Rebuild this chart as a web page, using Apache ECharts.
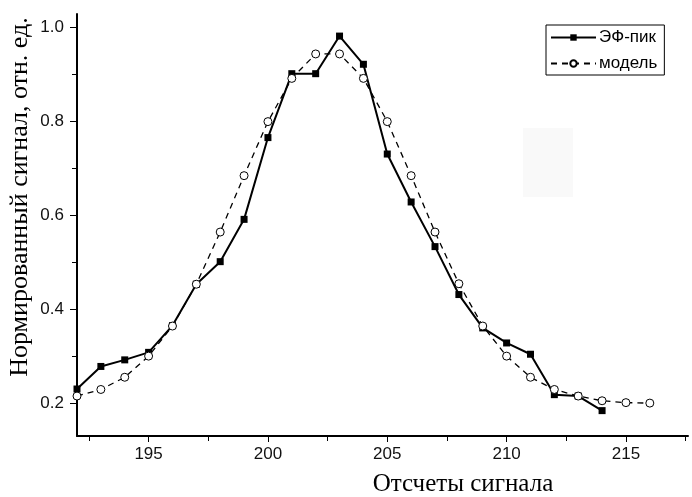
<!DOCTYPE html>
<html>
<head>
<meta charset="utf-8">
<script src="https://cdn.jsdelivr.net/npm/echarts@6/dist/echarts.min.js"></script>
<style>
  html, body { margin: 0; padding: 0; background: #fff; }
  #chart { width: 692px; height: 497px; }
</style>
</head>
<body>
<div id="chart"></div>
<script>
// ЭФ-пик, samples 192..214
const peakX = [192, 193, 194, 195, 196, 197, 198, 199, 200, 201, 202, 203, 204, 205, 206, 207, 208, 209, 210, 211, 212, 213, 214];
const peakY = [0.230, 0.278, 0.292, 0.308, 0.365, 0.453, 0.501, 0.591, 0.765, 0.901, 0.901, 0.981, 0.921, 0.730, 0.628, 0.533, 0.431, 0.360, 0.328, 0.304, 0.218, 0.215, 0.184];

// модель, samples 192..216
const modelX = [192, 193, 194, 195, 196, 197, 198, 199, 200, 201, 202, 203, 204, 205, 206, 207, 208, 209, 210, 211, 212, 213, 214, 215, 216];
const modelY = [0.215, 0.229, 0.255, 0.300, 0.364, 0.453, 0.564, 0.684, 0.799, 0.891, 0.943, 0.943, 0.891, 0.799, 0.684, 0.564, 0.454, 0.364, 0.300, 0.255, 0.229, 0.215, 0.205, 0.201, 0.200];

const xMajor = [195, 200, 205, 210, 215];
const xMinor = [192.5, 197.5, 202.5, 207.5, 212.5, 217.5];
const yMajor = [0.2, 0.4, 0.6, 0.8, 1.0];
const yMinor = [0.3, 0.5, 0.7, 0.9];

const xMin = 192, xMax = 217.6;
const yMin = 0.13, yMax = 1.028;

function pairs(xs, ys) {
  return xs.map((x, i) => [x, ys[i]]);
}

var myChart = echarts.init(document.getElementById("chart"));

const tickFont = { fontFamily: "Liberation Sans", fontSize: 17, color: "#111" };
const titleFont = { fontFamily: "Liberation Serif", fill: "#000" };

var option = {
  animation: false,
  grid: { left: 77, right: 4, top: 14, bottom: 61, containLabel: false },
  legend: {
    orient: "vertical",
    left: 546,
    top: 25,
    borderColor: "#000",
    borderWidth: 1,
    padding: [4, 7, 3, 4],
    itemGap: 9,
    itemWidth: 45,
    itemHeight: 8,
    textStyle: { fontFamily: "Liberation Sans", fontSize: 17, lineHeight: 16, color: "#000", padding: [0, 0, 0, -2] },
    data: ["ЭФ-пик", "модель"],
  },
  xAxis: [
    {
      type: "value",
      min: xMin,
      max: xMax,
      splitLine: { show: false },
      axisLine: { lineStyle: { color: "#000", width: 2 } },
      axisTick: { customValues: xMajor, length: 6, lineStyle: { color: "#000", width: 1 } },
      axisLabel: { customValues: xMajor, margin: 10, ...tickFont },
    },
    {
      type: "value",
      position: "bottom",
      min: xMin,
      max: xMax,
      splitLine: { show: false },
      axisLine: { show: false },
      axisTick: { customValues: xMinor, length: 5, lineStyle: { color: "#000", width: 1 } },
      axisLabel: { show: false },
    },
  ],
  yAxis: [
    {
      type: "value",
      min: yMin,
      max: yMax,
      splitLine: { show: false },
      axisLine: { show: true, lineStyle: { color: "#000", width: 2 } },
      axisTick: { show: true, customValues: yMajor, length: 7, lineStyle: { color: "#000", width: 1 } },
      axisLabel: {
        customValues: yMajor,
        margin: 13,
        formatter: (v) => v.toFixed(1),
        ...tickFont,
      },
    },
    {
      type: "value",
      position: "left",
      min: yMin,
      max: yMax,
      splitLine: { show: false },
      axisLine: { show: false },
      axisTick: { show: true, customValues: yMinor, length: 5, lineStyle: { color: "#000", width: 1 } },
      axisLabel: { show: false },
    },
  ],
  graphic: [
    // faint artefact patch in the source image
    { type: "rect", left: 523, top: 128, shape: { width: 50, height: 69 }, style: { fill: "#f9f9f9" }, z: -1 },
    {
      type: "text",
      x: 463,
      y: 484,
      style: { text: "Отсчеты сигнала", ...titleFont, fontSize: 25, align: "center", verticalAlign: "middle" },
    },
    {
      type: "text",
      x: 20,
      y: 197,
      rotation: Math.PI / 2,
      style: { text: "Нормированный сигнал, отн. ед.", ...titleFont, fontSize: 26, align: "center", verticalAlign: "middle" },
    },
  ],
  series: [
    {
      name: "модель",
      type: "line",
      data: pairs(modelX, modelY),
      symbol: "circle",
      symbolSize: 8,
      showAllSymbol: true,
      lineStyle: { color: "#000", width: 1.3, type: [6, 5] },
      itemStyle: { color: "#fff", borderColor: "#000", borderWidth: 1 },
      z: 3,
    },
    {
      name: "ЭФ-пик",
      type: "line",
      data: pairs(peakX, peakY),
      symbol: "rect",
      symbolSize: 7,
      showAllSymbol: true,
      lineStyle: { color: "#000", width: 2 },
      itemStyle: { color: "#000", borderColor: "#000", borderWidth: 0 },
      z: 2,
    },
  ],
};

option && myChart.setOption(option);
</script>
</body>
</html>
